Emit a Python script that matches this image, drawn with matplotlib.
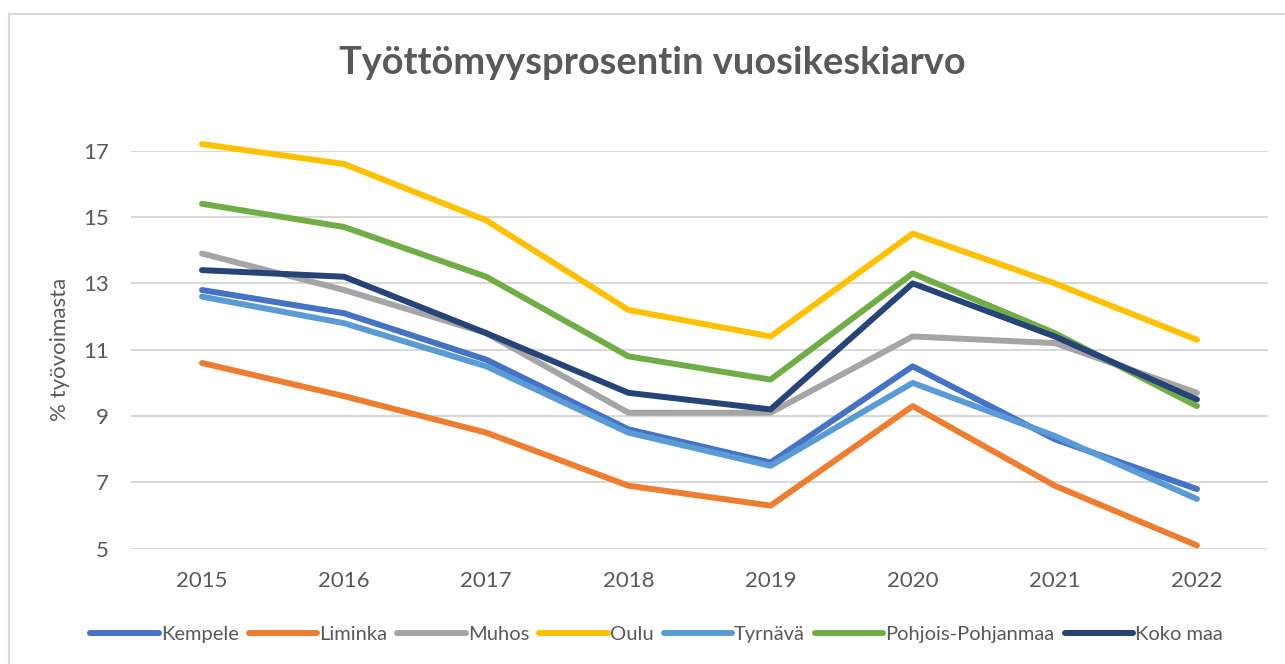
import numpy as np
import matplotlib
matplotlib.use("Agg")
import matplotlib.pyplot as plt
from matplotlib.patches import Rectangle

# Data
years = ["2015", "2016", "2017", "2018", "2019", "2020", "2021", "2022"]
kempele = [12.8, 12.1, 10.7, 8.6, 7.6, 10.5, 8.3, 6.8]
liminka = [10.6, 9.6, 8.5, 6.9, 6.3, 9.3, 6.9, 5.1]
muhos = [13.9, 12.8, 11.5, 9.1, 9.1, 11.4, 11.2, 9.7]
oulu = [17.2, 16.6, 14.9, 12.2, 11.4, 14.5, 13.0, 11.3]
tyrnava = [12.6, 11.8, 10.5, 8.5, 7.5, 10.0, 8.4, 6.5]
pohjois_pohjanmaa = [15.4, 14.7, 13.2, 10.8, 10.1, 13.3, 11.5, 9.3]
koko_maa = [13.4, 13.2, 11.5, 9.7, 9.2, 13.0, 11.4, 9.5]

series = [
    ("Kempele", kempele, "#4472C4"),
    ("Liminka", liminka, "#ED7D31"),
    ("Muhos", muhos, "#A5A5A5"),
    ("Oulu", oulu, "#FFC000"),
    ("Tyrnävä", tyrnava, "#5B9BD5"),
    ("Pohjois-Pohjanmaa", pohjois_pohjanmaa, "#70AD47"),
    ("Koko maa", koko_maa, "#264478"),
]

plt.rcParams['font.family'] = ['Lato', 'DejaVu Sans']
text_col = '#595959'
grid_col = '#D9D9D9'

fig = plt.figure(figsize=(12.85, 6.64), dpi=100)
ax = fig.add_axes([0.1019, 0.1736, 0.8849, 0.5994])

# chart area border (left and top edges visible)
fig.patches.append(Rectangle((9 / 1285, -0.1), 1.2, 1 - 14 / 664 + 0.1,
                             transform=fig.transFigure, fill=False,
                             edgecolor=grid_col, lw=1.6, zorder=0))

x = np.arange(len(years))
for name, vals, col in series:
    ax.plot(x, vals, color=col, lw=4.3, label=name, clip_on=False,
            solid_capstyle='round', solid_joinstyle='round')

ax.set_xlim(-0.5, len(years) - 0.5)
ax.set_ylim(5, 17)
ax.set_yticks([5, 7, 9, 11, 13, 15, 17])
ax.set_xticks(x)
ax.set_xticklabels(years)
ax.yaxis.grid(True, color=grid_col, lw=1.5)
ax.set_axisbelow(True)
for s in ax.spines.values():
    s.set_visible(False)
ax.tick_params(axis='both', length=0, labelsize=16, colors=text_col)
ax.tick_params(axis='x', pad=16)
ax.tick_params(axis='y', pad=16)

ax.set_ylabel('% työvoimasta', fontsize=16, color=text_col, labelpad=9)

fig.text(0.508, 0.905, 'Työttömyysprosentin vuosikeskiarvo', ha='center',
         va='center', fontsize=27.4, fontweight='bold', color=text_col)

leg = fig.legend(loc='center', bbox_to_anchor=(0.511, 0.045), ncol=7,
                 frameon=False, fontsize=14.5, handlelength=3.4,
                 handletextpad=0.1, columnspacing=0.5)
for t in leg.get_texts():
    t.set_color(text_col)
for h in leg.get_lines():
    h.set_linewidth(4.3)
    h.set_solid_capstyle('round')

fig.savefig('out.png', dpi=100)
